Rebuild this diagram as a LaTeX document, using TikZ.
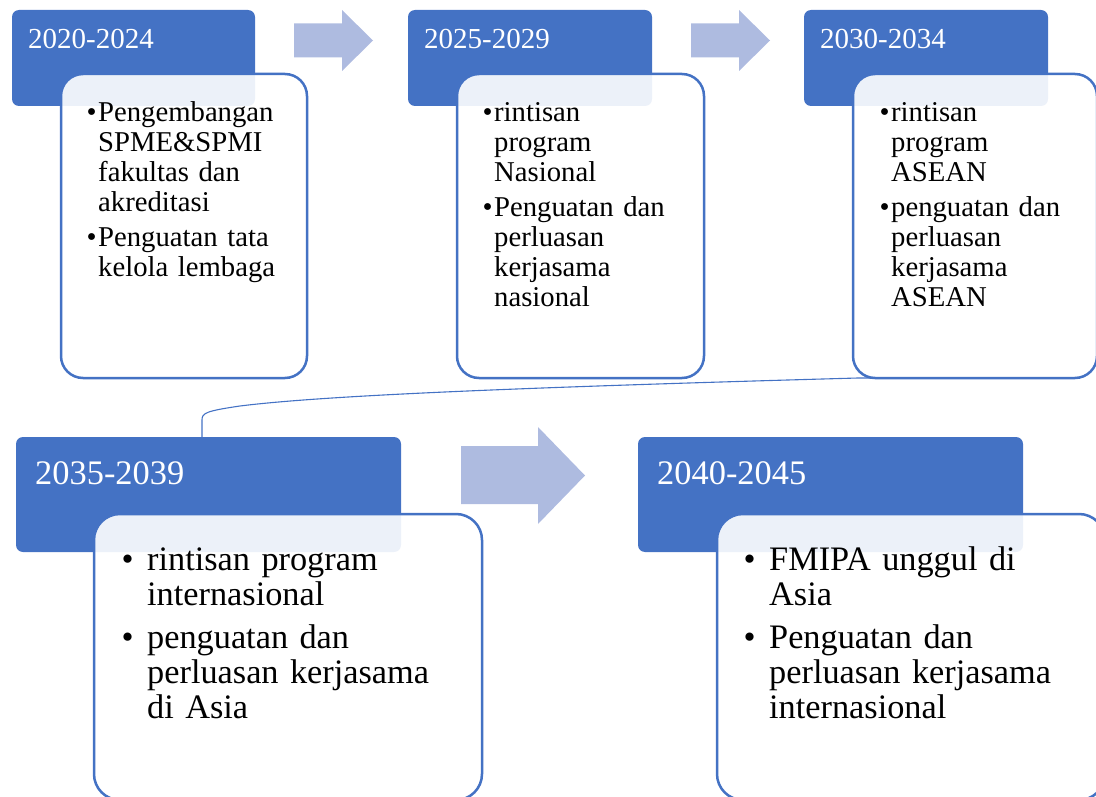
\documentclass[tikz,border=0pt]{standalone}
\usepackage{fontspec}
\setmainfont{Liberation Serif}
\usetikzlibrary{backgrounds}
\setlength{\parskip}{0pt}
\setlength{\parindent}{0pt}
\definecolor{hblue}{HTML}{4472C4}
\definecolor{ablue}{RGB}{174,187,224}
% one bulleted entry: #1 hanging box width, #2 gap after, #3 lines
\newcommand\bitem[3]{\noindent\hangindent=#1\hangafter=1\makebox[#1][l]{•}#3\par\vspace{#2}}
\newcommand\nl{\newline}
\tikzset{
  hdr/.style={fill=hblue, draw=none, rounded corners=7pt, inner sep=0pt, outer sep=0pt, anchor=north west},
  bodybox/.style={draw=hblue, line width=2.5pt, fill=white, fill opacity=0.9, inner sep=0pt, outer sep=0pt, anchor=north west},
  hdrtxt/.style={text=white, inner sep=0pt, anchor=base west},
  txtsmall/.style={inner sep=0pt, anchor=base west, text width=230pt, font=\fontsize{28.7}{30}\selectfont},
  txtbig/.style={inner sep=0pt, anchor=base west, text width=340pt, font=\fontsize{34.3}{35}\selectfont},
  fat/.style={fill=ablue, draw=none},
  conn/.style={draw=hblue, line width=1.1pt}
}
\begin{document}
\begin{tikzpicture}[x=1pt, y=-1pt]
\path[use as bounding box] (0,0) rectangle (1096,797);
\clip (0,0) rectangle (1096,797);

% period headers
\node[hdr, minimum width=243pt, minimum height=96pt] (h1) at (12,10) {};
\node[hdr, minimum width=244pt, minimum height=96pt] (h2) at (408,10) {};
\node[hdr, minimum width=244pt, minimum height=96pt] (h3) at (804,10) {};
\node[hdr, minimum width=385pt, minimum height=115pt] (h4) at (16,437) {};
\node[hdr, minimum width=385pt, minimum height=115pt] (h5) at (638,437) {};

% content boxes, lying over the headers
\node[bodybox, rounded corners=22pt, minimum width=246pt, minimum height=304pt] (b1) at (61,74) {};
\node[bodybox, rounded corners=22pt, minimum width=247pt, minimum height=304pt] (b2) at (457,74) {};
\node[bodybox, rounded corners=22pt, minimum width=244pt, minimum height=304pt] (b3) at (853,74) {};
\node[bodybox, rounded corners=26pt, minimum width=388pt, minimum height=286pt] (b4) at (94,514) {};
\node[bodybox, rounded corners=26pt, minimum width=388pt, minimum height=286pt] (b5) at (717,514) {};

% link from the first row down to the second row
\coordinate (c4) at (202,437);
\begin{scope}[on background layer]
\draw[conn] (c4) -- (202,420) .. controls (202,413) and (206,411) .. (240,406)
  .. controls (320,396) and (500,388) .. (858,378) -- (b3.south);
\end{scope}

% block arrows between the periods
\fill[fat] (294,23.5) -- (342,23.5) -- (342,10) -- (373,40.5) -- (342,71) -- (342,57.5) -- (294,57.5) -- cycle;
\fill[fat] (691,23.5) -- (739,23.5) -- (739,10) -- (770,40.5) -- (739,71) -- (739,57.5) -- (691,57.5) -- cycle;
\fill[fat] (461,446) -- (538,446) -- (538,427) -- (585,475.5) -- (538,524) -- (538,504) -- (461,504) -- cycle;

% header labels
\node[hdrtxt, font=\fontsize{29}{30}\selectfont] (t1) at (28,49) {2020-2024};
\node[hdrtxt, font=\fontsize{29}{30}\selectfont] (t2) at (424,49) {2025-2029};
\node[hdrtxt, font=\fontsize{29}{30}\selectfont] (t3) at (820,49) {2030-2034};
\node[hdrtxt, font=\fontsize{34.4}{35}\selectfont] (t4) at (35,484) {2035-2039};
\node[hdrtxt, font=\fontsize{34.4}{35}\selectfont] (t5) at (657,484) {2040-2045};

% box contents
\node[txtsmall] (x1) at (86.5,122) {\raggedright
  \bitem{11.5pt}{5pt}{Pengembangan\nl SPME\&SPMI\nl fakultas dan\nl akreditasi}%
  \bitem{11.5pt}{0pt}{Penguatan tata\nl kelola lembaga}};
\node[txtsmall] (x2) at (482.5,122) {\raggedright
  \bitem{11.5pt}{5pt}{rintisan\nl program\nl Nasional}%
  \bitem{11.5pt}{0pt}{Penguatan dan\nl perluasan\nl kerjasama\nl nasional}};
\node[txtsmall] (x3) at (879.5,122) {\raggedright
  \bitem{11.5pt}{5pt}{rintisan\nl program\nl ASEAN}%
  \bitem{11.5pt}{0pt}{penguatan dan\nl perluasan\nl kerjasama\nl ASEAN}};
\node[txtbig] (x4) at (121.5,570) {\raggedright
  \bitem{25.5pt}{8pt}{rintisan program\nl internasional}%
  \bitem{25.5pt}{0pt}{penguatan dan\nl perluasan kerjasama\nl di Asia}};
\node[txtbig] (x5) at (743.5,570) {\raggedright
  \bitem{25.5pt}{8pt}{FMIPA unggul di\nl Asia}%
  \bitem{25.5pt}{0pt}{Penguatan dan\nl perluasan kerjasama\nl internasional}};
\end{tikzpicture}
\end{document}
